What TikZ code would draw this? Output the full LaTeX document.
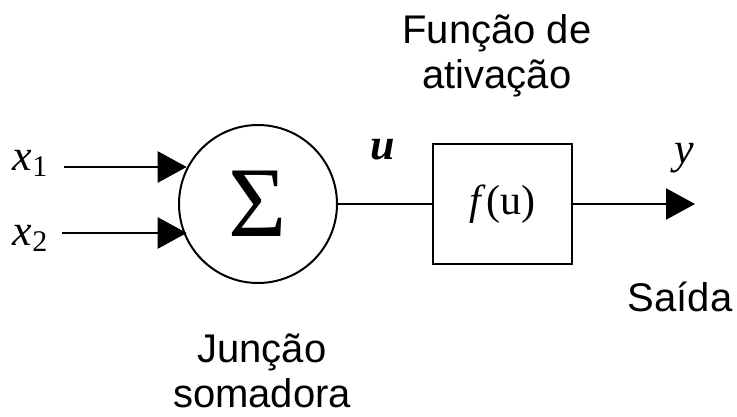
\documentclass[tikz,border=0pt]{standalone}
\usepackage{fontspec}
\setmainfont{Liberation Serif}
\newfontfamily\labelsans{Liberation Sans}
\usetikzlibrary{arrows.meta}
\begin{document}
\begin{tikzpicture}[x=1pt,y=-1pt,
  wire/.style={line width=2.4pt},
  sig/.style={wire,-{Triangle[length=29pt,width=31pt]}},
  caption/.style={font=\labelsans\fontsize{40}{45}\selectfont,align=center,inner sep=0pt},
  var/.style={font=\fontsize{44}{44}\selectfont\itshape,inner sep=0pt}]
  \useasboundingbox (0,0) rectangle (737,416);
  % summing junction and activation block
  \node[circle,draw,line width=2pt,minimum size=158pt,inner sep=0pt] (sum) at (258,204)
    {\fontsize{100}{100}\selectfont Σ};
  \node[draw,line width=2.2pt,minimum width=139pt,minimum height=120pt,inner sep=0pt] (act) at (502.5,204)
    {\fontsize{42}{42}\selectfont\textit{f}(u)};
  % inputs
  \coordinate (in1) at (64,167);
  \coordinate (in2) at (62,233);
  \draw[sig] (in1) -- (in1 -| sum.153);
  \draw[sig] (in2) -- (in2 -| sum.207);
  % signal u and output y
  \draw[wire] (sum.east) -- (act.west);
  \coordinate (out) at (695,204);
  \draw[sig] (act.east) -- (out);
  % variable labels
  \node[var] (x1) at (30,163) {x\raisebox{-6pt}{\fontsize{30}{30}\selectfont\upshape 1}};
  \node[var] (x2) at (30,238) {x\raisebox{-6pt}{\fontsize{30}{30}\selectfont\upshape 2}};
  \node[var,font=\fontsize{44}{44}\selectfont\bfseries\itshape] (u) at (383,150) {u};
  \node[var] (y) at (684,158) {y};
  % captions
  \node[caption,anchor=north] (fcap) at (497,14) {Função de\\ativação};
  \node[caption,anchor=north] (jcap) at (262,334) {Junção\\somadora};
  \node[caption,anchor=north] (scap) at (680,282) {Saída};
\end{tikzpicture}
\end{document}
